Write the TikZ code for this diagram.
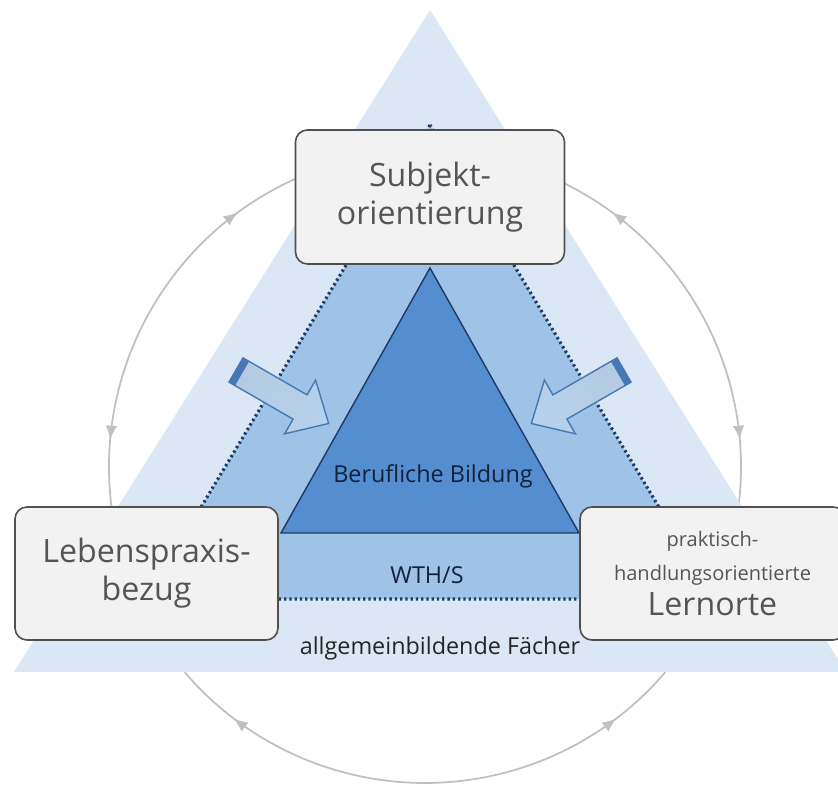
\documentclass[tikz,border=0pt]{standalone}
\usepackage{fontspec}
\setmainfont{Open Sans}
\usetikzlibrary{arrows.meta, decorations.markings, positioning}

\definecolor{paleblue}{RGB}{219,231,244}
\definecolor{midblue}{RGB}{158,195,231}
\definecolor{deepblue}{RGB}{84,142,208}
\definecolor{navy}{RGB}{31,56,100}
\definecolor{boxfill}{RGB}{242,242,242}
\definecolor{boxline}{RGB}{80,80,80}
\definecolor{boxtext}{RGB}{85,85,85}
\definecolor{arcgray}{RGB}{192,192,192}
\definecolor{arrowline}{RGB}{70,120,180}

\tikzset{
  cornerbox/.style={draw=boxline, line width=0.9pt, fill=boxfill, rounded corners=6.8pt,
    text=boxtext, align=center, font=\fontsize{18.3}{21.5}\selectfont},
  dotline/.style={navy, line width=1.8pt, dash pattern=on 1.3pt off 1.7pt},
  ringarc/.style={draw=arcgray, line width=1pt, postaction={decorate},
    decoration={markings,
      mark=at position 1.35cm with {\arrowreversed{Latex[length=8pt,width=6.5pt]}},
      mark=at position -1.35cm with {\arrow{Latex[length=8pt,width=6.5pt]}}}},
  inlabel/.style={font=\fontsize{13.3}{15}\selectfont, text=navy!60!black}
}

\begin{document}
\begin{tikzpicture}[x=2cm, y=2cm]
\useasboundingbox (0,0) rectangle (8.38,7.85);

% ring between the boxes
\coordinate (ctr) at (4.25,3.18);
\foreach \a/\b in {114.1/187.3, 65.9/-7.3, 220.5/319.5} {
    \draw[ringarc] ([shift={(\a:6.32cm)}]ctr) arc[start angle=\a, end angle=\b, radius=6.32cm];
}

% outer triangle
\fill[paleblue] (4.30,7.75) -- (0.14,1.13) -- (8.46,1.13) -- cycle;

% middle triangle
\filldraw[dotline, fill=midblue] (4.30,6.60) -- (1.46,1.86) -- (7.14,1.86) -- cycle;

% inner triangle
\filldraw[draw=navy, fill=deepblue, line width=0.8pt] (4.30,5.17) -- (2.81,2.52) -- (5.79,2.52) -- cycle;

% block arrows
\foreach \s/\x in {1/2.36, -1/6.24} {
    \begin{scope}[transform canvas={shift={(\x,4.15)}, xscale=\s, rotate=-30}]
    \draw[arrowline, line width=0.8pt, left color=arrowline!40, middle color=white, right color=midblue!75]
        (0,0.14) -- (0.74,0.14) -- (0.74,0.31) -- (1.07,0) -- (0.74,-0.31) -- (0.74,-0.14) -- (0,-0.14) -- cycle;
    \fill[arrowline] (0,0.14) rectangle (0.07,-0.14);
    \end{scope}
}

% boxes
\node[cornerbox, minimum width=5.38cm, minimum height=2.68cm] (subj) at (4.30,5.88) {Subjekt-\\orientierung};
\node[cornerbox, minimum width=5.26cm, minimum height=2.66cm] (leben) at (1.465,2.115) {Lebenspraxis-\\bezug};
\node[cornerbox, minimum width=5.30cm, minimum height=2.66cm, font=\fontsize{18.3}{19.5}\selectfont] (lern) at (7.125,2.115)
    {{\fontsize{11.4}{19.5}\selectfont praktisch-}\\{\fontsize{11.4}{19.5}\selectfont handlungsorientierte}\\Lernorte};

% labels of the layers
\node[inlabel] (beruf) at (4.33,3.09) {Berufliche Bildung};
\node[inlabel] (wths) at (4.27,2.10) {WTH/S};
\node[inlabel, text=black!85] (allg) at (4.40,1.37) {allgemeinbildende Fächer};
\end{tikzpicture}
\end{document}
